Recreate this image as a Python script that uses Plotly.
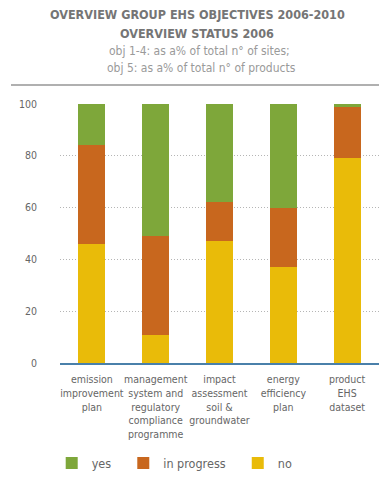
import plotly.graph_objects as go

categories = ["emission<br>improvement<br>plan",
              "management<br>system and<br>regulatory<br>compliance<br>programme",
              "impact<br>assessment<br>soil &<br>groundwater",
              "energy<br>efficiency<br>plan",
              "product<br>EHS<br>dataset"]
no_vals = [46, 11, 47, 37, 79]
progress_vals = [38, 38, 15, 23, 20]
yes_vals = [16, 51, 38, 40, 1]
y_ticks = [0, 20, 40, 60, 80, 100]

FONT = "DejaVu Sans Condensed, sans-serif"

fig = go.Figure()
fig.add_trace(go.Bar(x=categories, y=no_vals, name="no\u00a0\u00a0", marker_color="#e9bb09", marker_line_width=0))
fig.add_trace(go.Bar(x=categories, y=progress_vals, name="in progress\u00a0\u00a0", marker_color="#c8671e", marker_line_width=0))
fig.add_trace(go.Bar(x=categories, y=yes_vals, name="yes\u00a0\u00a0", marker_color="#7ea73a", marker_line_width=0))

fig.update_layout(
    width=379, height=477,
    barmode="stack", bargap=0.575,
    margin=dict(l=60, r=0, t=104, b=114, autoexpand=False),
    paper_bgcolor="white", plot_bgcolor="white",
    font=dict(family=FONT, color="#666666", size=11),
    showlegend=True,
    legend=dict(orientation="h", traceorder="reversed", x=-0.026, xanchor="left",
                y=-0.33, yanchor="top", font=dict(size=12.5, color="#666666"),
                itemwidth=30),
    xaxis=dict(showline=True, linecolor="#4a80aa", linewidth=1.5, ticks="", tickangle=0,
               automargin=False, ticklabelstandoff=6,
               tickfont=dict(size=10.5, color="#666666"), fixedrange=True),
    yaxis=dict(range=[0, 100], tickvals=y_ticks, showgrid=True, gridcolor="#b5b5b5",
               griddash="1px,2px", gridwidth=1, zeroline=False, ticklabelstandoff=22,
               automargin=False, tickfont=dict(size=10.5, color="#666666")),
    shapes=[dict(type="line", xref="paper", yref="paper", x0=(11 - 60) / 319, x1=1.0,
                 y0=(363 - 85) / 259, y1=(363 - 85) / 259,
                 line=dict(color="#b0b0b0", width=2))],
    annotations=[
        dict(text="<b>OVERVIEW GROUP EHS OBJECTIVES 2006-2010</b>", xref="paper", yref="paper",
             x=(197 - 60) / 319, y=(363 - 14) / 259, xanchor="center", yanchor="middle",
             showarrow=False, font=dict(size=12.5, color="#757575", family=FONT)),
        dict(text="<b>OVERVIEW STATUS 2006</b>", xref="paper", yref="paper",
             x=(197 - 60) / 319, y=(363 - 33) / 259, xanchor="center", yanchor="middle",
             showarrow=False, font=dict(size=12.5, color="#757575", family=FONT)),
        dict(text="obj 1-4: as a% of total n° of sites;", xref="paper", yref="paper",
             x=(199 - 60) / 319, y=(363 - 51) / 259, xanchor="center", yanchor="middle",
             showarrow=False, font=dict(size=12, color="#9a9a9a", family=FONT)),
        dict(text="obj 5: as a% of total n° of products", xref="paper", yref="paper",
             x=(201 - 60) / 319, y=(363 - 68) / 259, xanchor="center", yanchor="middle",
             showarrow=False, font=dict(size=12, color="#9a9a9a", family=FONT)),
    ],
)

fig.write_html("out.html")
